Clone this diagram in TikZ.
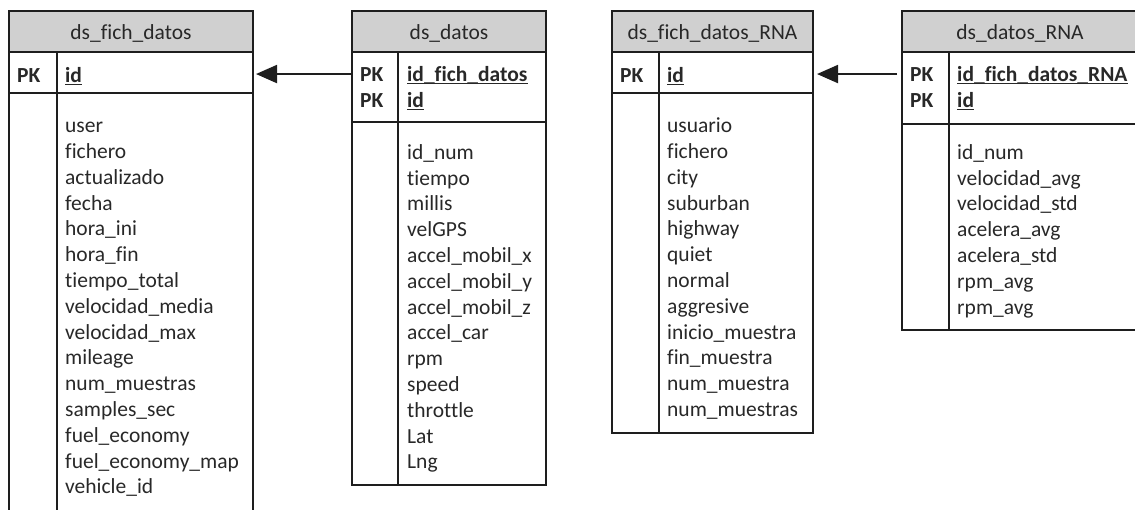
\documentclass[tikz,border=0pt]{standalone}
\usepackage{fontspec}
\setmainfont{Carlito}[Ligatures=CommonOff]
\usetikzlibrary{arrows.meta}
\definecolor{hdrfill}{RGB}{208,208,208}
\definecolor{edge}{RGB}{30,30,30}
\definecolor{ink}{RGB}{40,40,40}
\begin{document}
\begin{tikzpicture}[x=1pt,y=-1pt,
  box/.style={draw=edge,line width=1.4pt,inner sep=0pt,outer sep=0pt,anchor=north west},
  hdr/.style={box,fill=hdrfill},
  rule/.style={draw=edge,line width=1.4pt},
  txt/.style={anchor=base west,inner sep=0pt,text=ink,font=\fontsize{21.5}{25.8}\selectfont},
  ttl/.style={anchor=base,inner sep=0pt,text=ink,font=\fontsize{21.5}{25.8}\selectfont},
  key/.style={txt,font=\fontsize{21.5}{25.8}\selectfont\bfseries},
  ul/.style={draw=ink,line width=1.3pt},
  fk/.style={draw=edge,line width=2pt,-{Triangle[length=21pt,width=18pt]}}]
\useasboundingbox (0,0) rectangle (1135,509);
\clip (0,0) rectangle (1135,509);

% ---- ds_fich_datos ----
\node[hdr,minimum width=244,minimum height=41] (t1h) at (9,11) {};
\node[box,minimum width=244,minimum height=41] (t1k) at (9,52) {};
\node[box,minimum width=244,minimum height=440] (t1b) at (9,93) {};
\draw[rule] ([xshift=48pt]t1k.north west) -- ([xshift=48pt]t1b.south west);
\node[ttl] (t1t) at (131,39) {ds\_fich\_datos};
\node[key] (t1pk) at (17,82) {PK};
\node[key] (t1id) at (65,82) {id};
\draw[ul] ([yshift=-2.5pt]t1id.base west) -- ([yshift=-2.5pt]t1id.base east);
\foreach \f [count=\i from 0] in {user,fichero,actualizado,fecha,hora\_ini,hora\_fin,
  tiempo\_total,velocidad\_media,velocidad\_max,mileage,num\_muestras,samples\_sec,
  fuel\_economy,fuel\_economy\_map,vehicle\_id}
  \node[txt] (t1f\i) at (65,{132.7+\i*25.8}) {\f};

% ---- ds_datos ----
\node[hdr,minimum width=194,minimum height=41] (t2h) at (352,11) {};
\node[box,minimum width=194,minimum height=70] (t2k) at (352,52) {};
\node[box,minimum width=194,minimum height=363] (t2b) at (352,122) {};
\draw[rule] ([xshift=46pt]t2k.north west) -- ([xshift=46pt]t2b.south west);
\node[ttl] (t2t) at (449,39) {ds\_datos};
\node[key] (t2pk1) at (360,81) {PK};
\node[key] (t2pk2) at (360,107) {PK};
\node[key] (t2k1) at (407,81) {id\_fich\_datos};
\node[key] (t2k2) at (407,107) {id};
\draw[ul] ([yshift=-2.5pt]t2k1.base west) -- ([yshift=-2.5pt]t2k1.base east);
\draw[ul] ([yshift=-2.5pt]t2k2.base west) -- ([yshift=-2.5pt]t2k2.base east);
\foreach \f [count=\i from 0] in {id\_num,tiempo,millis,velGPS,accel\_mobil\_x,
  accel\_mobil\_y,accel\_mobil\_z,accel\_car,rpm,speed,throttle,Lat,Lng}
  \node[txt] (t2f\i) at (407,{159.3+\i*25.8}) {\f};

% ---- ds_fich_datos_RNA ----
\node[hdr,minimum width=201,minimum height=41] (t3h) at (612,11) {};
\node[box,minimum width=201,minimum height=41] (t3k) at (612,52) {};
\node[box,minimum width=201,minimum height=340] (t3b) at (612,93) {};
\draw[rule] ([xshift=47pt]t3k.north west) -- ([xshift=47pt]t3b.south west);
\node[ttl] (t3t) at (712.5,39) {ds\_fich\_datos\_RNA};
\node[key] (t3pk) at (620,82) {PK};
\node[key] (t3id) at (667,82) {id};
\draw[ul] ([yshift=-2.5pt]t3id.base west) -- ([yshift=-2.5pt]t3id.base east);
\foreach \f [count=\i from 0] in {usuario,fichero,city,suburban,highway,quiet,normal,
  aggresive,inicio\_muestra,fin\_muestra,num\_muestra,num\_muestras}
  \node[txt] (t3f\i) at (667,{132.7+\i*25.8}) {\f};

% ---- ds_datos_RNA ----
\node[hdr,minimum width=236,minimum height=41] (t4h) at (902,11) {};
\node[box,minimum width=236,minimum height=72] (t4k) at (902,52) {};
\node[box,minimum width=236,minimum height=206] (t4b) at (902,124) {};
\draw[rule] ([xshift=47pt]t4k.north west) -- ([xshift=47pt]t4b.south west);
\node[ttl] (t4t) at (1020,39) {ds\_datos\_RNA};
\node[key] (t4pk1) at (910,81) {PK};
\node[key] (t4pk2) at (910,107) {PK};
\node[key] (t4k1) at (957,81) {id\_fich\_datos\_RNA};
\node[key] (t4k2) at (957,107) {id};
\draw[ul] ([yshift=-2.5pt]t4k1.base west) -- ([yshift=-2.5pt]t4k1.base east);
\draw[ul] ([yshift=-2.5pt]t4k2.base west) -- ([yshift=-2.5pt]t4k2.base east);
\foreach \f [count=\i from 0] in {id\_num,velocidad\_avg,velocidad\_std,acelera\_avg,
  acelera\_std,rpm\_avg,rpm\_avg}
  \node[txt] (t4f\i) at (957,{159.3+\i*25.8}) {\f};

% ---- foreign keys ----
\draw[fk] (t2k.west |- t2pk1) -- ([xshift=3pt]t1k.east |- t2pk1);
\draw[fk] ([xshift=-5pt]t4k.west |- t4pk1) -- ([xshift=4pt]t3k.east |- t4pk1);
\end{tikzpicture}
\end{document}
